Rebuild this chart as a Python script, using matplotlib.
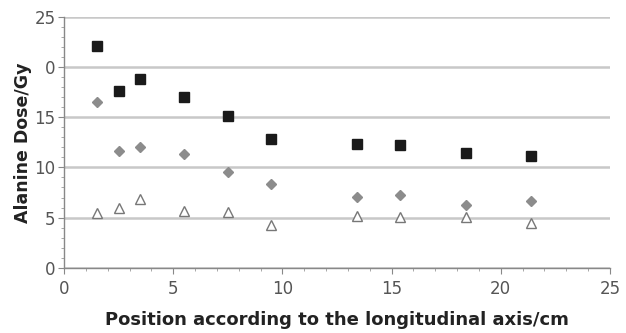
import numpy as np
import matplotlib.pyplot as plt
from matplotlib.ticker import MultipleLocator

# positions along the longitudinal axis (cm)
pos = [1.5, 2.5, 3.5, 5.5, 7.5, 9.5, 13.4, 15.4, 18.4, 21.4]
# alanine dose (Gy), three series
dose_sq = [22.1, 17.65, 18.85, 17.05, 15.1, 12.8, 12.33, 12.26, 11.47, 11.14]
dose_di = [16.5, 11.67, 12.0, 11.3, 9.5, 8.35, 7.08, 7.22, 6.22, 6.62]
dose_tr = [5.42, 5.92, 6.82, 5.68, 5.52, 4.29, 5.15, 5.02, 5.08, 4.43]

yticks = [0, 5, 10, 15, 20, 25]
ytick_labels = ['0', '5', '10', '15', '0', '25']
xticks = [0, 5, 10, 15, 20, 25]

plt.rcParams['font.family'] = 'DejaVu Sans'
fig = plt.figure(figsize=(6.26, 3.33), dpi=100)
ax = fig.add_axes([64/626, 65.3/333, 546/626, 250.7/333])

ax.plot(pos, dose_sq, 's', color='#1a1a1a', markersize=7.8, zorder=3)
ax.plot(pos, dose_di, 'D', color='#8c8c8c', markersize=5, zorder=3)
ax.plot(pos, dose_tr, '^', markerfacecolor='white', markeredgecolor='#777777',
        markeredgewidth=1.0, markersize=7.5, zorder=3)

ax.set_xlim(0, 25)
ax.set_ylim(0, 25)
ax.set_xticks(xticks)
ax.set_yticks(yticks)
ax.set_yticklabels(ytick_labels)
ax.xaxis.set_minor_locator(MultipleLocator(1))
ax.yaxis.set_minor_locator(MultipleLocator(1))

ax.grid(axis='y', which='major', color='#c8c8c8', linewidth=1.8)
ax.set_axisbelow(True)
for s in ['top', 'right']:
    ax.spines[s].set_visible(False)
for s in ['left', 'bottom']:
    ax.spines[s].set_color('#888888')
    ax.spines[s].set_linewidth(1.0)

ax.tick_params(which='major', direction='out', length=4, color='#888888',
               labelsize=12, labelcolor='#555555')
ax.tick_params(axis='x', which='major', pad=5)
ax.tick_params(axis='y', which='major', pad=2)
ax.tick_params(which='minor', direction='out', length=2.5, color='#999999')

ax.set_xlabel('Position according to the longitudinal axis/cm', fontsize=13,
              fontweight='bold', color='#222222', labelpad=9)
ax.set_ylabel('Alanine Dose/Gy', fontsize=12.5, fontweight='bold',
              color='#222222', labelpad=2)

fig.savefig('out.png', dpi=100)
